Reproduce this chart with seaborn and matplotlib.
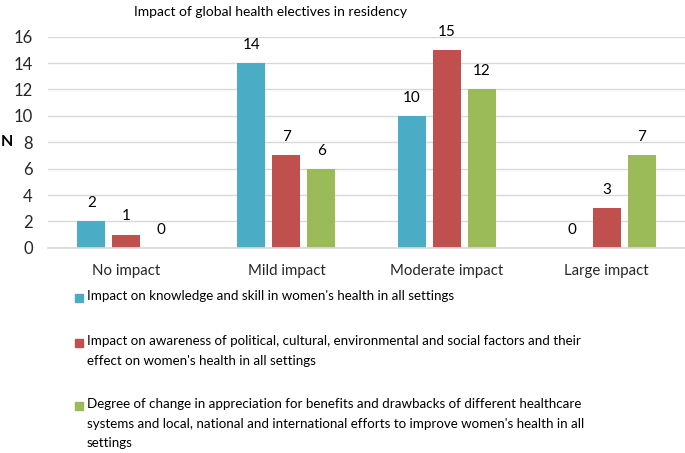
import pandas as pd
import matplotlib.pyplot as plt
import seaborn as sns
from matplotlib.patches import Rectangle

# Chart values
categories = ['No impact', 'Mild impact', 'Moderate impact', 'Large impact']
series_names = [
    "Impact on knowledge and skill in women's health in all settings",
    "Impact on awareness of political, cultural, environmental and social factors and their\neffect on women's health in all settings",
    "Degree of change in appreciation for benefits and drawbacks of different healthcare\nsystems and local, national and international efforts to improve women's health in all\nsettings",
]
knowledge = [2, 14, 10, 0]
awareness = [1, 7, 15, 3]
appreciation = [0, 6, 12, 7]
colors = ['#4BACC6', '#C0504D', '#9BBB59']

rows = []
for name, vals in zip(series_names, [knowledge, awareness, appreciation]):
    for cat, v in zip(categories, vals):
        rows.append({'Impact': cat, 'Series': name, 'N': v})
df = pd.DataFrame(rows)

sns.set_theme(style='white')
plt.rcParams['font.family'] = ['Lato', 'DejaVu Sans']
plt.rcParams['text.color'] = 'black'

fig = plt.figure(figsize=(6.85, 4.53), dpi=100)
ax = fig.add_axes([0.070, 0.453, 0.930, 0.466])

sns.barplot(data=df, x='Impact', y='N', hue='Series', palette=colors,
            width=0.656, gap=0.2, ax=ax, legend=False, linewidth=0,
            errorbar=None, saturation=1)

for cont in ax.containers:
    ax.bar_label(cont, padding=8, fontsize=11)

ax.set_ylim(0, 16)
ax.set_xlim(-0.49, 3.49)
ax.set_yticks(range(0, 17, 2))
ax.grid(axis='y', color='#D9D9D9', linewidth=1)
ax.set_axisbelow(True)
for s in ['top', 'right', 'left']:
    ax.spines[s].set_visible(False)
ax.spines['bottom'].set_color('#D9D9D9')
ax.tick_params(axis='y', length=0, pad=11, labelsize=12)
ax.tick_params(axis='x', length=0, pad=12, labelsize=10.8)
ax.set_xlabel('')
ax.set_ylabel('')
fig.text(1 / 685, 1 - 142 / 453, 'N', ha='left', va='center',
         fontweight='bold', fontsize=11.5)

fig.text(271 / 685, 1 - 12 / 453, 'Impact of global health electives in residency',
         ha='center', va='center', fontsize=10)

# legend drawn below the plot, square aligned with first line
legend_rows = [298, 343, 406]
for name, col, yc in zip(series_names, colors, legend_rows):
    fig.patches.append(Rectangle((75 / 685, 1 - (yc + 4) / 453), 8 / 685, 8 / 453,
                                 transform=fig.transFigure, color=col))
    fig.text(87 / 685, 1 - (yc - 8) / 453, name, ha='left', va='top',
             fontsize=9.6, linespacing=1.77)

fig.savefig('out.png', dpi=100)
